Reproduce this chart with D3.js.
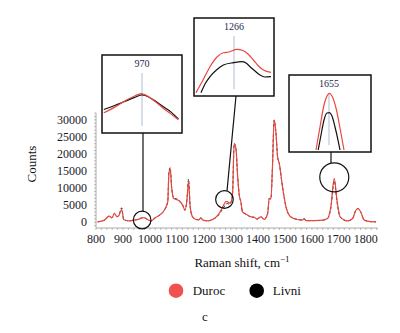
<!DOCTYPE html>
<html><head><meta charset="utf-8">
<script src="https://cdn.jsdelivr.net/npm/d3@7/dist/d3.min.js"></script>
<style>body{margin:0;background:#fff}svg{display:block}</style>
</head><body>
<svg id="c" width="400" height="333"></svg>
<script>
// ---- data ----
const shift = [806,831,849,859,868,878,885,895,903,922,941,959,970,978,993,1004,1016,1034,1053,1066,1070,1075,1080,1088,1096,1108,1121,1130,1137,1143,1149,1158,1170,1181,1189,1196,1214,1232,1251,1263,1275,1281,1287,1294,1300,1306,1312,1319,1325,1331,1337,1343,1356,1374,1386,1396,1411,1423,1436,1442,1448,1454,1460,1467,1473,1479,1491,1504,1522,1547,1567,1571,1578,1633,1658,1670,1683,1693,1705,1732,1751,1763,1771,1781,1794,1819,1837];
const duroc = [100,600,1760,1300,2550,1600,2000,3700,700,400,600,900,1250,1300,700,350,1100,2000,3500,6000,14100,15600,10400,7000,6700,6300,5000,3500,6500,12000,4500,1550,800,700,1300,600,400,800,2000,3500,5300,6000,6000,5600,5900,8400,23100,21200,13300,7900,5900,3000,2350,1550,1450,900,1550,800,2550,7000,6800,16300,30000,26100,19100,17300,10400,4500,1550,800,650,1050,450,530,1100,4400,12850,6500,1550,380,1100,3500,4000,3000,600,150,100];
const livni = [100,600,1800,1300,2600,1600,2100,4200,700,400,600,900,1250,1250,750,350,1100,2000,3500,6000,14500,16000,10600,7000,6900,6400,5000,3500,6600,12600,4600,1550,800,700,1300,600,400,800,1800,3100,4500,5200,5500,5300,5700,8300,23000,21200,13300,7900,5900,3000,2350,1550,1450,900,1550,800,2550,7000,6800,16300,29900,26000,19100,17300,10400,4500,1550,800,650,1050,450,530,1050,4000,12100,6000,1450,380,1100,3500,4000,3000,600,150,100];
const xTicks = [800,900,1000,1100,1200,1300,1400,1500,1600,1700,1800];
const yTicks = [0,5000,10000,15000,20000,25000,30000];
const seriesNames = ["Duroc","Livni"];
const seriesColors = ["#e8483f","#111111"];
const legendColors = ["#ef5350","#000000"];

// inset data
const in1Label = "970";
const in1X = [949,955,960.5,966,969.5,972.5,976.5,982,986,990];
const in1Duroc = [1130,1166,1205,1237,1253,1240,1208,1156,1121,1085];
const in1XL = [949,955,960.5,966,970,972.5,976.5,982,986,990];
const in1Livni = [1151,1176,1202,1228,1244,1237,1211,1166,1134,1090];

const in2Label = "1266";
const in2X = [1247,1250.5,1254,1257.5,1260.7,1263.5,1267.4,1270.7,1273,1275.7,1278,1280.7,1284.5];
const in2Duroc = [4127,4615,5127,5500,5665,5692,5796,5742,5615,5385,5173,5000,4912];
const in2XL = [1249.5,1251.5,1254,1257.5,1260.7,1265.7,1269.9,1272,1274,1276.5,1279,1281.5,1284.5];
const in2Livni = [4127,4462,4742,5019,5192,5281,5319,5269,5127,4962,4808,4731,4742];

const in3Label = "1655";
const in3X = [1648.5,1650.5,1652.5,1654,1655.2,1656.5,1658.5,1660.5,1662.5];
const in3Duroc = [8156,9949,11663,12365,12575,12365,11430,9870,8156];
const in3XL = [1649.6,1651,1652.5,1654,1655.2,1656.5,1658,1659.5,1660.5];
const in3Livni = [8156,9325,10494,11040,11063,10806,9949,8935,8156];

// ---- drawing ----
const svg = d3.select("#c");
const x = d3.scaleLinear().domain([800,1845]).range([96,378]);
const y = d3.scaleLinear().domain([-1700,32000]).range([228,113]);
const font = "'Liberation Serif','Times New Roman',serif";

// axes
const xAx = svg.append("g").attr("transform","translate(0,228)");
xAx.append("line").attr("x1",96).attr("x2",378).attr("stroke","#aaa").attr("stroke-width",1);
xAx.selectAll(".mt").data(d3.range(800,1841,20)).enter().append("line")
  .attr("x1",d=>x(d)).attr("x2",d=>x(d)).attr("y1",0).attr("y2",2).attr("stroke","#aaa").attr("stroke-width",0.8);
xAx.selectAll("text").data(xTicks).enter().append("text")
  .attr("x",d=>x(d)).attr("y",15).attr("text-anchor","middle")
  .attr("font-family",font).attr("font-size",12).attr("fill","#1a1a2a").text(d=>d);

const yAx = svg.append("g").attr("transform","translate(96,0)");
yAx.append("line").attr("y1",113).attr("y2",228).attr("stroke","#aaa").attr("stroke-width",1);
yAx.selectAll(".mt").data(d3.range(-1000,32001,1000)).enter().append("line")
  .attr("y1",d=>y(d)).attr("y2",d=>y(d)).attr("x1",-2).attr("x2",0).attr("stroke","#aaa").attr("stroke-width",0.8);
yAx.selectAll("text").data(yTicks).enter().append("text")
  .attr("x",-9).attr("y",d=>y(d)).attr("dy","0.35em").attr("text-anchor","end")
  .attr("font-family",font).attr("font-size",12).attr("fill","#1a1a2a").text(d=>d);

// axis titles
svg.append("text").attr("transform","translate(36,164) rotate(-90)").attr("text-anchor","middle")
  .attr("font-family",font).attr("font-size",13).attr("fill","#111").text("Counts");
const xt = svg.append("text").attr("x",242).attr("y",267).attr("text-anchor","middle")
  .attr("font-family",font).attr("font-size",13).attr("fill","#111");
xt.append("tspan").text("Raman shift, cm");
xt.append("tspan").attr("dy",-5).attr("font-size",9).text("\u22121");

// main lines
const line = d3.line().x((d,i)=>x(shift[i])).y(d=>y(d)).curve(d3.curveMonotoneX);
svg.append("path").attr("d",line(livni)).attr("fill","none").attr("stroke",seriesColors[1]).attr("stroke-width",0.9).attr("stroke-dasharray","3,2");
svg.append("path").attr("d",line(duroc)).attr("fill","none").attr("stroke",seriesColors[0]).attr("stroke-width",1.2);

// insets
function inset(box, xdom, ydom, label, xr, dr, xl, lr, circ, conn){
  const g = svg.append("g");
  const sx = d3.scaleLinear().domain(xdom).range([box[0],box[2]]);
  const sy = d3.scaleLinear().domain(ydom).range([box[3],box[1]]);
  const cx = sx(+label);
  g.append("line").attr("x1",cx).attr("x2",cx).attr("y1",box[1]+18).attr("y2",box[3]-7)
    .attr("stroke","#c9d3e3").attr("stroke-width",1.5);
  const lg = d3.line().curve(d3.curveMonotoneX);
  g.append("path").attr("d",lg(xl.map((v,i)=>[sx(v),sy(lr[i])]))).attr("fill","none").attr("stroke",seriesColors[1]).attr("stroke-width",1.2);
  g.append("path").attr("d",lg(xr.map((v,i)=>[sx(v),sy(dr[i])]))).attr("fill","none").attr("stroke",seriesColors[0]).attr("stroke-width",1.2);
  g.append("rect").attr("x",box[0]).attr("y",box[1]).attr("width",box[2]-box[0]).attr("height",box[3]-box[1])
    .attr("fill","none").attr("stroke","#111").attr("stroke-width",1.5);
  g.append("text").attr("x",cx).attr("y",box[1]+12).attr("text-anchor","middle")
    .attr("font-family",font).attr("font-size",10).attr("fill","#1c2b50").text(label);
  g.append("circle").attr("cx",circ[0]).attr("cy",circ[1]).attr("r",circ[2]).attr("fill","none").attr("stroke","#111").attr("stroke-width",1.2);
  g.append("line").attr("x1",conn[0]).attr("y1",conn[1]).attr("x2",conn[2]).attr("y2",conn[3]).attr("stroke","#111").attr("stroke-width",1.2);
}
inset([102,55,182,133],[948,992],[1000,1500],in1Label,in1X,in1Duroc,in1XL,in1Livni,
  [x(971),220,8.8],[143,133,143,211.2]);
inset([194,18,274,96],[1246,1286],[4000,7000],in2Label,in2X,in2Duroc,in2XL,in2Livni,
  [x(1276),199.5,8.8],[236,96,227,191]);
inset([289,75,371,152],[1635,1676],[8000,14000],in3Label,in3X,in3Duroc,in3XL,in3Livni,
  [x(1683),177.3,14.5],[331,152,331,163]);

// legend
const leg = svg.append("g");
[[176,192.7],[256.7,272.7]].forEach((p,i)=>{
  leg.append("circle").attr("cx",p[0]).attr("cy",290.7).attr("r",7.3).attr("fill",legendColors[i]);
  leg.append("text").attr("x",p[1]).attr("y",295).attr("font-family",font).attr("font-size",13).attr("fill","#111").text(seriesNames[i]);
});
svg.append("text").attr("x",205).attr("y",321).attr("text-anchor","middle").attr("font-family",font).attr("font-size",13).attr("fill","#111").text("c");
</script>
</body></html>
